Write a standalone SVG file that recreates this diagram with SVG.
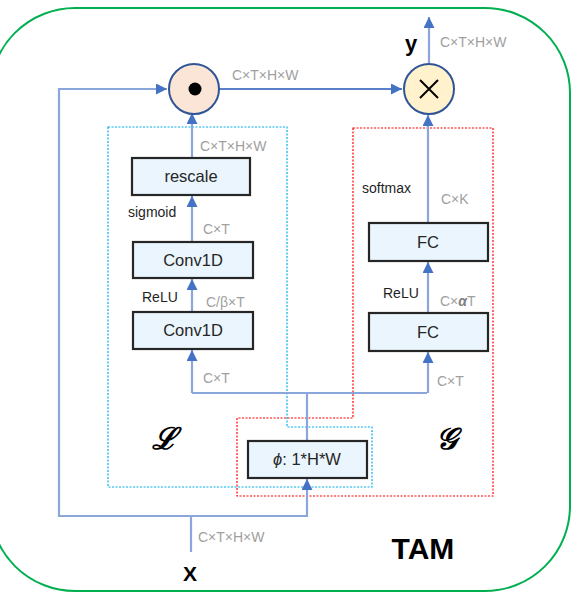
<svg xmlns="http://www.w3.org/2000/svg" width="583" height="595" viewBox="0 0 583 595">
<defs>
<marker id="ah" viewBox="0 0 10 10" refX="10" refY="5" markerWidth="11" markerHeight="11" markerUnits="userSpaceOnUse" orient="auto">
<path d="M0,0 L10,5 L0,10 z" fill="#4472C4"/>
</marker>
<style>
.c{fill:none;stroke:#8AA6DA;stroke-width:2.2}
.cd{fill:none;stroke:#5A80CC;stroke-width:2}
.box{fill:#EAF5FD;stroke:#262626;stroke-width:2.2}
.bt{font-family:"Liberation Sans",Arial,sans-serif;font-size:16.5px;fill:#262626;text-anchor:middle}
.g{font-family:"Liberation Sans",Arial,sans-serif;font-size:14px;fill:#A0A0A0}
.a{font-family:"Liberation Sans",Arial,sans-serif;font-size:14px;fill:#1F1F1F}
</style>
</defs>
<rect x="-10" y="8" width="580" height="583" rx="85" fill="none" stroke="#00B050" stroke-width="2"/>
<polygon points="108,127 287,127 287,427 372,427 372,487 108,487" fill="none" stroke="#00B0F0" stroke-width="1.2" stroke-dasharray="2,1.5"/>
<polygon points="353,128 493,128 493,496 237,496 237,418 353,418" fill="none" stroke="#FF0000" stroke-width="1.2" stroke-dasharray="2,1.5"/>
<g id="connectors">
<polyline class="c" points="191,552 191,516 59,516 59,89 167,89" marker-end="url(#ah)"/>
<polyline class="c" points="191,516 307,516 307,479" marker-end="url(#ah)"/>
<line class="c" x1="307" y1="441" x2="307" y2="393"/>
<polyline class="c" points="192,393 427,393"/>
<line class="c" x1="192" y1="393" x2="192" y2="350" marker-end="url(#ah)"/>
<line class="c" x1="428" y1="393" x2="428" y2="352" marker-end="url(#ah)"/>
<line class="c" x1="192" y1="312" x2="192" y2="279" marker-end="url(#ah)"/>
<line class="c" x1="192" y1="242" x2="192" y2="196" marker-end="url(#ah)"/>
<line class="c" x1="192" y1="158" x2="192" y2="113" marker-end="url(#ah)"/>
<line class="c" x1="428" y1="313" x2="428" y2="262" marker-end="url(#ah)"/>
<line class="c" x1="428" y1="223" x2="428" y2="115" marker-end="url(#ah)"/>
<line class="cd" x1="219" y1="89" x2="402" y2="89" marker-end="url(#ah)"/>
<line class="c" x1="429" y1="63" x2="429" y2="17" marker-end="url(#ah)"/>
</g>
<g id="odot">
<circle cx="194" cy="89" r="25" fill="#FBE5D6" stroke="#2F5597" stroke-width="2"/>
<circle cx="195" cy="89" r="6.5" fill="#000"/>
</g>
<g id="otimes">
<circle cx="429" cy="89" r="25" fill="#FFF2CC" stroke="#2F5597" stroke-width="2"/>
<path d="M420,80 L438,98 M438,80 L420,98" stroke="#000" stroke-width="2" fill="none"/>
</g>
<g id="rescale"><rect class="box" x="132" y="158" width="118" height="37"/><text class="bt" x="191" y="182">rescale</text></g>
<g id="conv1d-2"><rect class="box" x="133" y="242" width="120" height="36"/><text class="bt" x="193" y="266">Conv1D</text></g>
<g id="conv1d-1"><rect class="box" x="133" y="312" width="120" height="37"/><text class="bt" x="193" y="336">Conv1D</text></g>
<g id="fc-2"><rect class="box" x="369" y="223" width="119" height="38"/><text class="bt" x="428" y="248">FC</text></g>
<g id="fc-1"><rect class="box" x="369" y="313" width="119" height="38"/><text class="bt" x="428" y="338">FC</text></g>
<g id="phi"><rect class="box" x="248" y="441" width="119" height="37"/><text class="bt" x="307" y="465"><tspan font-style="italic">ϕ</tspan>: 1*H*W</text></g>
<g id="labels">
<text class="g" x="232" y="80">C×T×H×W</text>
<text class="g" x="440" y="47">C×T×H×W</text>
<text x="405" y="51" font-family="Liberation Sans,Arial,sans-serif" font-size="22" font-weight="bold" fill="#000">y</text>
<text class="g" x="200" y="151">C×T×H×W</text>
<text class="a" x="128" y="217">sigmoid</text>
<text class="g" x="203" y="234">C×T</text>
<text class="a" x="142" y="302">ReLU</text>
<text class="g" x="206" y="307">C/β×T</text>
<text class="g" x="203" y="383">C×T</text>
<text class="a" x="362" y="193">softmax</text>
<text class="g" x="441" y="204">C×K</text>
<text class="a" x="383" y="298">ReLU</text>
<text class="g" x="440" y="306">C×<tspan font-style="italic" font-weight="bold" fill="#808080">α</tspan>T</text>
<text class="g" x="437" y="386">C×T</text>
<text class="g" x="198" y="542">C×T×H×W</text>
<text x="190" y="581" font-family="Liberation Sans,Arial,sans-serif" font-size="21" font-weight="bold" fill="#000" text-anchor="middle">X</text>
<text x="423" y="559" font-family="Liberation Sans,Arial,sans-serif" font-size="30" font-weight="bold" fill="#000" text-anchor="middle">TAM</text>
<text x="164" y="449" font-family="DejaVu Serif,serif" font-size="30" font-style="italic" font-weight="bold" fill="#000" text-anchor="middle">ℒ</text>
<text x="446" y="449" font-family="DejaVu Serif,serif" font-size="30" font-style="italic" font-weight="bold" fill="#000" text-anchor="middle">𝒢</text>
</g>
</svg>
